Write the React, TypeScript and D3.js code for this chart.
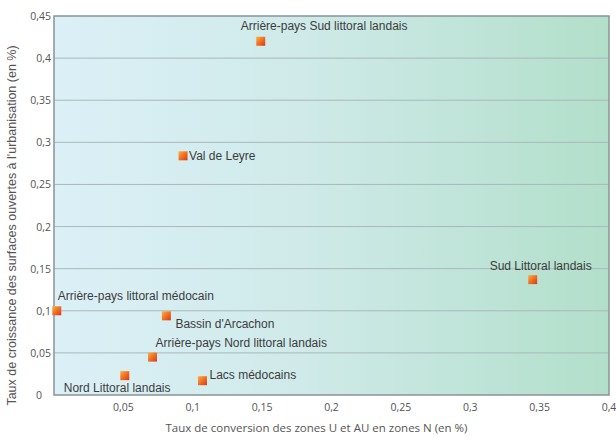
import React, { useEffect, useRef } from 'react';
import * as d3 from 'd3';

const WIDTH = 616;
const HEIGHT = 438;
const MARGIN = { top: 16, right: 7, bottom: 43, left: 54 };

const zones = [
  'Arrière-pays Sud littoral landais',
  'Val de Leyre',
  'Sud Littoral landais',
  'Arrière-pays littoral médocain',
  "Bassin d'Arcachon",
  'Arrière-pays Nord littoral landais',
  'Nord Littoral landais',
  'Lacs médocains',
];
const conversionRate = [0.149, 0.093, 0.345, 0.002, 0.081, 0.071, 0.051, 0.107];
const growthRate = [0.42, 0.284, 0.137, 0.1, 0.094, 0.045, 0.023, 0.017];

// label placement relative to marker: [dx, dy, anchor]
const labelPos: [number, number, string][] = [
  [-20, -11, 'start'],
  [6, 4, 'start'],
  [8, -10, 'middle'],
  [1, -11, 'start'],
  [9, 12, 'start'],
  [3, -10, 'start'],
  [-61, 16, 'start'],
  [7, -2, 'start'],
];

const xTicks = [0.05, 0.1, 0.15, 0.2, 0.25, 0.3, 0.35, 0.4];
const yTicks = [0, 0.05, 0.1, 0.15, 0.2, 0.25, 0.3, 0.35, 0.4, 0.45];

const fmt = (d: number) => String(+d.toFixed(2)).replace('.', ',');

const App = () => {
  const svgRef = useRef<SVGSVGElement | null>(null);

  useEffect(() => {
    if (!svgRef.current) return;
    const svg = d3.select(svgRef.current);
    svg.selectAll('*').remove();

    const w = WIDTH - MARGIN.left - MARGIN.right;
    const h = HEIGHT - MARGIN.top - MARGIN.bottom;

    const x = d3.scaleLinear().domain([0, 0.4]).range([0, w]);
    const y = d3.scaleLinear().domain([0, 0.45]).range([h, 0]);

    const defs = svg.append('defs');
    const bg = defs.append('linearGradient').attr('id', 'bg').attr('x1', '0%').attr('x2', '100%');
    bg.append('stop').attr('offset', '0%').attr('stop-color', '#dcf0f7');
    bg.append('stop').attr('offset', '45%').attr('stop-color', '#cfeae9');
    bg.append('stop').attr('offset', '100%').attr('stop-color', '#b2dfca');

    const mk = defs.append('linearGradient').attr('id', 'mk')
      .attr('x1', '0%').attr('y1', '0%').attr('x2', '100%').attr('y2', '100%');
    mk.append('stop').attr('offset', '0%').attr('stop-color', '#f9b23a');
    mk.append('stop').attr('offset', '55%').attr('stop-color', '#ef6a22');
    mk.append('stop').attr('offset', '100%').attr('stop-color', '#d9381a');

    svg.append('rect').attr('width', WIDTH).attr('height', HEIGHT).attr('fill', '#ffffff');

    const g = svg.append('g').attr('transform', `translate(${MARGIN.left},${MARGIN.top})`);

    g.append('rect').attr('width', w).attr('height', h).attr('fill', 'url(#bg)');

    // horizontal grid
    g.selectAll('.grid')
      .data(yTicks.slice(1, -1))
      .enter()
      .append('line')
      .attr('x1', 0)
      .attr('x2', w)
      .attr('y1', d => y(d))
      .attr('y2', d => y(d))
      .attr('stroke', '#a9b8bc')
      .attr('stroke-width', 1);

    g.append('rect')
      .attr('width', w)
      .attr('height', h)
      .attr('fill', 'none')
      .attr('stroke', '#8a9296')
      .attr('stroke-width', 1.5);

    const font = 'Open Sans, Liberation Sans, sans-serif';

    // y tick labels
    g.selectAll('.ytick')
      .data(yTicks)
      .enter()
      .append('text')
      .attr('x', d => (d === 0 ? -12 : -3))
      .attr('y', d => y(d) + 4)
      .attr('text-anchor', 'end')
      .attr('font-family', font)
      .attr('font-size', 10.5)
      .attr('fill', '#555')
      .text(d => fmt(d));

    // x tick labels
    g.selectAll('.xtick')
      .data(xTicks)
      .enter()
      .append('text')
      .attr('x', d => x(d))
      .attr('y', h + 16)
      .attr('text-anchor', 'middle')
      .attr('font-family', font)
      .attr('font-size', 10.5)
      .attr('fill', '#555')
      .text(d => fmt(d));

    // axis titles
    svg.append('text')
      .attr('x', MARGIN.left + w / 2 - 15)
      .attr('y', 432)
      .attr('text-anchor', 'middle')
      .attr('font-family', font)
      .attr('font-size', 11.5)
      .attr('fill', '#555')
      .text('Taux de conversion des zones U et AU en zones N (en %)');

    svg.append('text')
      .attr('transform', `translate(16,${MARGIN.top + h / 2 + 20}) rotate(-90)`)
      .attr('text-anchor', 'middle')
      .attr('font-family', 'Liberation Sans, Arial, sans-serif')
      .attr('font-size', 12.5)
      .attr('fill', '#555')
      .text("Taux de croissance des surfaces ouvertes à l'urbanisation (en %)");

    const pts = zones.map((name, i) => ({ name, cx: conversionRate[i], cy: growthRate[i], i }));

    g.selectAll('.pt')
      .data(pts)
      .enter()
      .append('rect')
      .attr('x', d => x(d.cx) - 4.5)
      .attr('y', d => y(d.cy) - 4.5)
      .attr('width', 9)
      .attr('height', 9)
      .attr('fill', 'url(#mk)');

    g.selectAll('.lbl')
      .data(pts)
      .enter()
      .append('text')
      .attr('x', d => x(d.cx) + labelPos[d.i][0])
      .attr('y', d => y(d.cy) + labelPos[d.i][1])
      .attr('text-anchor', d => labelPos[d.i][2])
      .attr('font-family', 'Liberation Sans, Arial, sans-serif')
      .attr('font-size', 12)
      .attr('fill', '#3c3c3c')
      .text(d => d.name);
  }, []);

  return <svg ref={svgRef} width={WIDTH} height={HEIGHT} style={{ position: 'absolute', left: 0, top: 0 }} />;
};

export default App;
